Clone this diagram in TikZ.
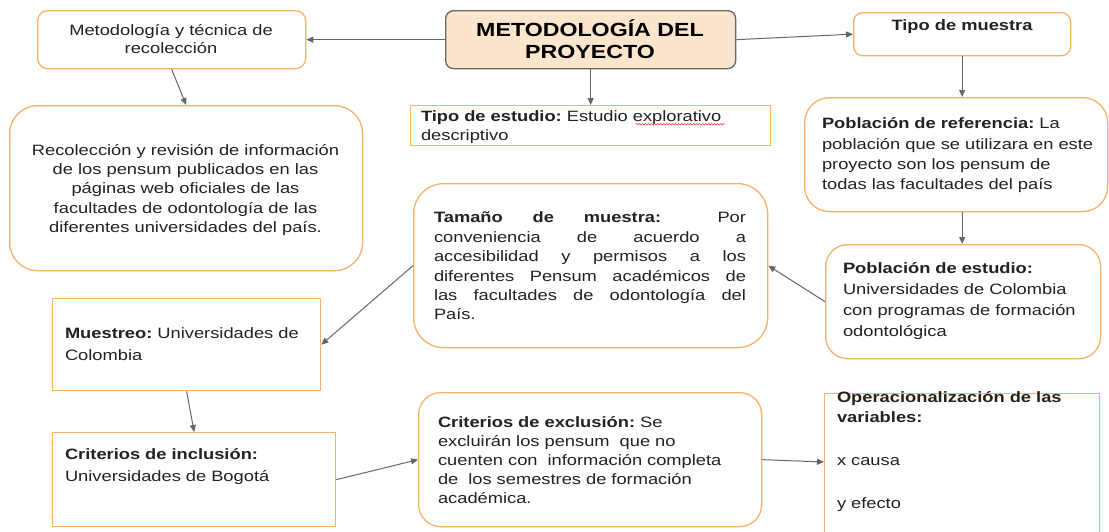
\documentclass[tikz,border=0pt]{standalone}
\usepackage{fontspec}
\setmainfont{Liberation Sans}[FakeStretch=1.22]
\usetikzlibrary{arrows.meta,calc,decorations.pathmorphing}
\definecolor{bord}{HTML}{F6B26B}
\definecolor{peach}{HTML}{FCE5CD}
\definecolor{arr}{HTML}{666666}
\definecolor{ink}{HTML}{222222}
\tikzset{
  box/.style={draw=bord, line width=1.3pt, inner sep=0pt, anchor=north west},
  rbox/.style={box, rounded corners=#1},
  conn/.style={draw=arr, line width=1pt, -{Triangle[length=7pt,width=6pt]}},
  txt/.style={inner sep=0pt, align=left, text=ink, font=\fontsize{15}{19.5}\selectfont},
  squiggle/.style={draw=red!80, line width=0.5pt, decorate, decoration={snake, amplitude=0.8pt, segment length=3pt}},
}
\begin{document}
\begin{tikzpicture}[x=1pt,y=-1pt]
\useasboundingbox (0,0) rectangle (1109,531);
\fill[white] (0,0) rectangle (1109,531);

% boxes
\node[rbox=10pt, minimum width=268pt, minimum height=58pt] (m1) at (37,10) {};
\node[box, rounded corners=8pt, draw=arr, fill=peach, minimum width=290pt, minimum height=58pt] (c) at (445,10) {};
\node[rbox=9pt, minimum width=217pt, minimum height=43pt] (tm) at (853,12) {};
\node[rbox=28pt, minimum width=353pt, minimum height=165pt] (rec) at (9,105) {};
\node[box, minimum width=360pt, minimum height=40pt] (te) at (410,105) {};
\node[rbox=25pt, minimum width=303pt, minimum height=114pt] (pr) at (804,97) {};
\node[rbox=30pt, minimum width=354pt, minimum height=164pt] (tam) at (413,183) {};
\node[rbox=22pt, minimum width=275pt, minimum height=114pt] (pe) at (825,244) {};
\node[box, minimum width=268pt, minimum height=92pt] (mu) at (52,298) {};
\node[box, minimum width=283pt, minimum height=94pt] (ci) at (52,432) {};
\node[rbox=22pt, minimum width=343pt, minimum height=134pt] (ce) at (418,392) {};
\node[box, minimum width=275pt, minimum height=150pt] (op) at (824,393) {};

% texts
\node[txt, align=center, font=\fontsize{15}{18.5}\selectfont] (m1t) at (171,39) {Metodología y técnica de\\recolección};
\node[txt, align=center, text=black, font=\fontsize{19}{22.5}\selectfont\bfseries] (ct) at (590,39) {METODOLOGÍA DEL\\PROYECTO};
\node[txt, font=\fontsize{15}{19}\selectfont\bfseries] (tmt) at (962,27) {Tipo de muestra};
\node[txt, align=center, font=\fontsize{15}{19.3}\selectfont] (rect) at (185.5,190) {Recolección y revisión de información\\de los pensum publicados en las\\páginas web oficiales de las\\facultades de odontología de las\\diferentes universidades del país.};
\node[txt, text width=345pt, font=\fontsize{15}{19}\selectfont] (tet) at (593.5,127) {\textbf{Tipo de estudio:}\hspace{5pt}Estudio explorativo\\descriptivo};
\draw[squiggle] ($(tet.north west)+(215,14)$) -- ++(89,0);
\node[txt, text width=285pt, font=\fontsize{15}{20.3}\selectfont] (prt) at (964.5,155.5) {\textbf{Población de referencia:}\hspace{5pt}La\\población que se utilizara en este\\proyecto son los pensum de\\todas las facultades del país};
\node[txt, text width=312pt, align=justify, font=\fontsize{15}{19.4}\selectfont] (tamt) at (590,266) {\textbf{Tamaño de muestra:} Por\linebreak conveniencia de acuerdo a\linebreak accesibilidad y permisos a los\linebreak diferentes Pensum académicos de\linebreak las facultades de odontología del\linebreak País.};
\node[txt, text width=260pt, font=\fontsize{15}{21}\selectfont] (pet) at (973,301.5) {\textbf{Población de estudio:}\\Universidades de Colombia\\con programas de formación\\odontológica};
\node[txt, text width=250pt, font=\fontsize{15}{22}\selectfont] (mut) at (190,344) {\textbf{Muestreo:}\hspace{5pt}Universidades de\\Colombia};
\node[txt, text width=270pt, font=\fontsize{15}{22}\selectfont] (cit) at (200,467) {\textbf{Criterios de inclusión:}\\Universidades de Bogotá};
\node[txt, text width=315pt, font=\fontsize{15}{19}\selectfont] (cet) at (595.5,460) {\textbf{Criterios de exclusión:}\hspace{5pt}Se\\excluirán los pensum\ \ que no\\cuenten con\ \ información completa\\de\ \ los semestres de formación\\académica.};
\node[txt, text width=260pt, font=\fontsize{15}{20}\selectfont] (opt) at (967,452) {\textbf{Operacionalización de las}\\\textbf{variables:}\\[23pt]x causa\\[23pt]y efecto};

% connectors
\draw[conn] (c.west) -- (m1.east);
\draw[conn] (c.east) -- (tm.west);
\draw[conn] (c.south) -- (te.north);
\draw[conn] (m1.south) -- (rec.north);
\draw[conn] (tm.south) -- (tm.south |- pr.north);
\draw[conn] (tm.south |- pr.south) -- (tm.south |- pe.north);
\draw[conn] (pe.west) -- (tam.east);
\draw[conn] (tam.west) -- (mu.east);
\draw[conn] (mu.south) -- (ci.north);
\draw[conn] (ci.east) -- (ce.west);
\coordinate (opin) at ($(op.north west)+(0,69)$);
\draw[conn] (ce.east) -- (opin);
\end{tikzpicture}
\end{document}
